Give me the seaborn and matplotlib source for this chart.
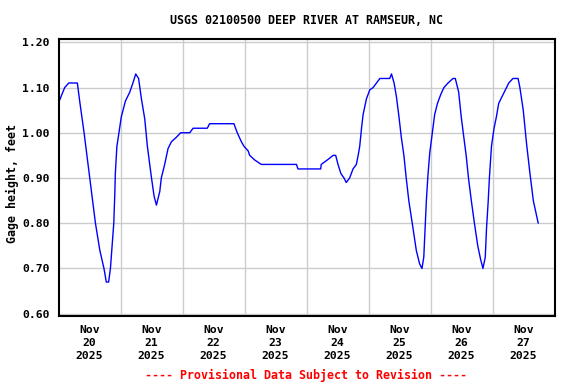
import numpy as np
import pandas as pd
import matplotlib
matplotlib.use("Agg")
import matplotlib.pyplot as plt
import matplotlib.dates as mdates
import seaborn as sns

# Hours since 2025-11-20 00:00 and gage height (ft)
hours = [0, 2.4, 4, 7.3, 8.2, 9.9, 12.1, 14.3, 16, 17.6, 18.5, 19.4, 20.1, 21.4,
         21.8, 22, 22.6, 23.4, 24.3, 25.9, 27.6, 28.8, 29.9, 31, 32.1, 33.4, 34.4,
         36, 37, 37.9, 39.2, 39.8, 41.1, 42.4, 43.7, 45.6, 47.3, 50.8, 52.1, 57.6,
         58.5, 67.9, 69.2, 70.8, 71.8, 73.4, 74, 75.9, 78.5, 92.1, 92.7, 101.5,
         101.7, 104.1, 106.3, 107.3, 108.2, 109.3, 110.5, 111.4, 112.7, 114, 115.3,
         116, 116.6, 117.3, 117.9, 119.2, 120.5, 121.8, 123.1, 124.4, 128.2, 128.9,
         129.9, 130.8, 131.8, 132.7, 133.7, 134.6, 135.6, 137.2, 138.5, 139.8, 140.7,
         141.4, 142, 142.4, 143, 143.7, 144.6, 145.6, 146.7, 148, 149.2, 150.8, 152.7,
         153.6, 154.9, 155.9, 156.9, 157.8, 158.7, 159.8, 161, 162.3, 163.4, 164.3,
         165.2, 165.7, 166.3, 166.8, 167.6, 168.6, 169.5, 170.4, 171.7, 173, 174.3,
         175.9, 177.9, 178.6, 179.9, 181.2, 182.5, 183.8, 185.7]
gage = [1.066, 1.10, 1.11, 1.11, 1.07, 1.00, 0.90, 0.80, 0.74, 0.70, 0.67, 0.67, 0.70, 0.80,
        0.866, 0.91, 0.97, 1.00, 1.035, 1.07, 1.09, 1.11, 1.13, 1.12, 1.075, 1.03, 0.97,
        0.90, 0.86, 0.84, 0.87, 0.90, 0.93, 0.965, 0.98, 0.99, 1.00, 1.00, 1.01, 1.01,
        1.02, 1.02, 1.00, 0.98, 0.97, 0.96, 0.95, 0.94, 0.93, 0.93, 0.92, 0.92,
        0.93, 0.94, 0.95, 0.95, 0.93, 0.91, 0.90, 0.89, 0.90, 0.92, 0.93,
        0.95, 0.97, 1.01, 1.04, 1.075, 1.095, 1.10, 1.11, 1.12, 1.12, 1.13,
        1.11, 1.08, 1.035, 0.99, 0.95, 0.90, 0.85, 0.79, 0.74, 0.71, 0.70,
        0.725, 0.80, 0.85, 0.905, 0.955, 0.995, 1.04, 1.065, 1.085, 1.10, 1.11, 1.12,
        1.12, 1.09, 1.035, 0.99, 0.95, 0.90, 0.85, 0.80, 0.75, 0.72, 0.70,
        0.725, 0.79, 0.845, 0.90, 0.97, 1.01, 1.035, 1.065, 1.08, 1.095, 1.11,
        1.12, 1.12, 1.10, 1.05, 0.975, 0.91, 0.85, 0.80]

day_labels = ["Nov\n20\n2025", "Nov\n21\n2025", "Nov\n22\n2025", "Nov\n23\n2025",
              "Nov\n24\n2025", "Nov\n25\n2025", "Nov\n26\n2025", "Nov\n27\n2025"]
y_ticks = [0.60, 0.70, 0.80, 0.90, 1.00, 1.10, 1.20]

start = pd.Timestamp("2025-11-20 00:00")
df = pd.DataFrame({"time": start + pd.to_timedelta(hours, unit="h"), "gage": gage})

sns.set_style("white")
plt.rcParams["font.family"] = ["DejaVu Sans Mono"]
plt.rcParams["font.weight"] = "bold"
plt.rcParams["text.color"] = "black"
plt.rcParams["xtick.color"] = "black"
plt.rcParams["ytick.color"] = "black"
plt.rcParams["xtick.labelcolor"] = "black"
plt.rcParams["ytick.labelcolor"] = "black"

fig = plt.figure(figsize=(5.76, 3.84), dpi=100)
ax = fig.add_axes([58.5 / 576, 1 - 316 / 384, (554.5 - 58.5) / 576, (316 - 39.3) / 384])

sns.lineplot(data=df, x="time", y="gage", ax=ax, color="#0000ff", linewidth=1.0)

ax.set_xlim(start, start + pd.Timedelta(days=8))
ax.set_ylim(0.5949, 1.2066)

midnights = [start + pd.Timedelta(days=i) for i in range(1, 8)]
noons = [start + pd.Timedelta(days=i, hours=12) for i in range(8)]
ax.set_xticks(midnights)
ax.set_xticklabels([""] * len(midnights))
ax.set_xticks(noons, minor=True)
ax.set_xticklabels(day_labels, minor=True, fontsize=8.2, fontweight="bold",
                   linespacing=1.38, color="black")
ax.set_yticks(y_ticks)
ax.set_yticklabels([f"{v:.2f}" for v in y_ticks], fontsize=8.2, fontweight="bold",
                   color="black")

ax.tick_params(axis="both", which="both", length=0)
ax.tick_params(axis="y", pad=6.3)
ax.tick_params(axis="x", which="minor", pad=6.5)
ax.grid(True, which="major", color="#cccccc", linewidth=1.0)
ax.set_axisbelow(True)
for s in ax.spines.values():
    s.set_color("black")
    s.set_linewidth(1.5)

ax.set_xlabel("")
ax.set_ylabel("")

fig.text(306 / 576, 1 - 20 / 384, "USGS 02100500 DEEP RIVER AT RAMSEUR, NC",
         ha="center", va="center", fontsize=8.4, fontweight="bold", color="black")
fig.text(12 / 576, 1 - 183.5 / 384, "Gage height, feet", rotation=90,
         ha="center", va="center", fontsize=8.4, fontweight="bold", color="black")
fig.text(306 / 576, 1 - 375.3 / 384, "---- Provisional Data Subject to Revision ----",
         ha="center", va="center", fontsize=8.4, fontweight="bold", color="#ff0000")

fig.savefig("out.png", dpi=100)
